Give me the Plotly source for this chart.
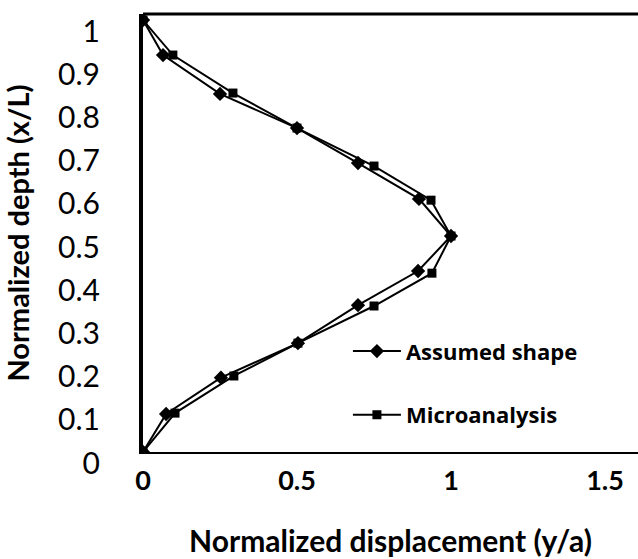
import plotly.graph_objects as go

# Assumed shape series
assumed_x = [0.0, 0.075, 0.253, 0.503, 0.698, 0.893, 1.0, 0.896, 0.698, 0.500, 0.250, 0.065, 0.0]
assumed_y = [0.0, 0.088, 0.172, 0.252, 0.340, 0.419, 0.500, 0.586, 0.669, 0.750, 0.829, 0.919, 1.0]

# Microanalysis series
micro_x = [0.0, 0.104, 0.295, 0.503, 0.750, 0.938, 1.0, 0.935, 0.750, 0.500, 0.292, 0.097, 0.0]
micro_y = [0.0, 0.090, 0.176, 0.252, 0.338, 0.414, 0.500, 0.583, 0.662, 0.750, 0.831, 0.919, 1.0]

x_ticks = [0, 0.5, 1, 1.5]
x_tick_text = ["0", "0.5", "1", "1.5"]
y_ticks = [0, 0.1, 0.2, 0.3, 0.4, 0.5, 0.6, 0.7, 0.8, 0.9, 1]
y_tick_text = ["0", "0.1", "0.2", "0.3", "0.4", "0.5", "0.6", "0.7", "0.8", "0.9", "1"]

FONT = "Lato, 'Open Sans', sans-serif"
LEG_FONT = "'Open Sans', Lato, sans-serif"

fig = go.Figure()
fig.add_trace(go.Scatter(
    x=assumed_x, y=assumed_y, mode="lines+markers", name="Assumed shape",
    line=dict(color="black", width=2),
    marker=dict(symbol="diamond", size=11, color="black"),
    legendgroup="a",
))
fig.add_trace(go.Scatter(
    x=micro_x, y=micro_y, mode="lines+markers", name="Microanalysis",
    line=dict(color="black", width=2),
    marker=dict(symbol="square", size=9, color="black"),
    legendgroup="m",
))

fig.update_layout(
    width=638, height=559,
    margin=dict(l=143, r=0, t=14, b=107),
    paper_bgcolor="white", plot_bgcolor="white",
    font=dict(family=FONT, color="black"),
    showlegend=True,
    legend=dict(
        x=0.414, y=0.278, xanchor="left", yanchor="top",
        font=dict(family=LEG_FONT, size=22, color="black", weight="bold"),
        bgcolor="rgba(0,0,0,0)",
        tracegroupgap=32,
        traceorder="grouped",
        itemwidth=48,
    ),
    xaxis=dict(
        range=[0, 1.607], tickvals=x_ticks, ticktext=x_tick_text,
        showgrid=False, zeroline=False, showline=True, linecolor="black", linewidth=2,
        ticks="", tickfont=dict(family=FONT, size=27, weight="bold"),
        ticklabelstandoff=4, ticklabeloverflow="allow", automargin=False,
        title=dict(text="Normalized displacement (y/a)", font=dict(family=FONT, size=30, weight="bold"), standoff=36),
    ),
    yaxis=dict(
        range=[0, 1.014], tickvals=y_ticks, ticktext=y_tick_text,
        showgrid=False, zeroline=False, showline=True, linecolor="black", linewidth=4,
        ticks="", tickfont=dict(family=FONT, size=30),
        ticklabelstandoff=33, ticklabelshift=11, ticklabeloverflow="allow", automargin=False,
        title=dict(text="Normalized depth (x/L)", font=dict(family=FONT, size=29, weight="bold"), standoff=26),
    ),
    shapes=[dict(type="line", xref="paper", yref="paper", x0=0, x1=1, y0=1, y1=1,
                 line=dict(color="black", width=3))],
)

fig.write_html("out.html")
